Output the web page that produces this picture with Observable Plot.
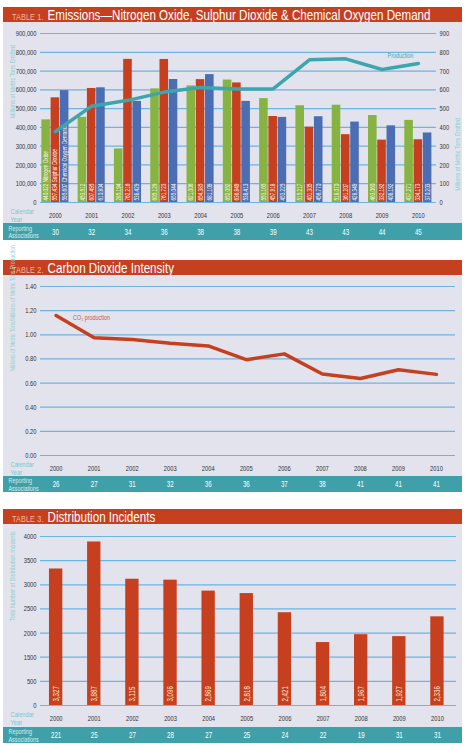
<!DOCTYPE html>
<html>
<head>
<meta charset="utf-8">
<script src="https://cdn.jsdelivr.net/npm/d3@7"></script>
<script src="https://cdn.jsdelivr.net/npm/@observablehq/plot@0.6"></script>
<style>
  body { margin: 0; background: #fff; font-family: "Liberation Sans", Arial, sans-serif; }
  #page { position: relative; width: 466px; height: 746px; overflow: hidden; }
  .panel { position: absolute; left: 3px; width: 459px; }
  .panel svg { display: block; }
  .title { height: 15px; background: #c4401f; color: #fff; line-height: 16px; padding-left: 9px; white-space: nowrap; overflow: hidden; }
  .title .inner { display: inline-block; transform: scaleX(0.8); transform-origin: left center; font-size: 14.5px; }
  .title .tag { font-size: 9px; color: #f7b9a1; margin-right: 5px; letter-spacing: 0.2px; }
</style>
</head>
<body>
<div id="page">
  <div class="panel" id="p1" style="top:7px"><div class="title"><span class="inner"><span class="tag">TABLE 1.</span>Emissions—Nitrogen Oxide, Sulphur Dioxide &amp; Chemical Oxygen Demand</span></div></div>
  <div class="panel" id="p2" style="top:260px"><div class="title"><span class="inner"><span class="tag">TABLE 2.</span>Carbon Dioxide Intensity</span></div></div>
  <div class="panel" id="p3" style="top:509px"><div class="title"><span class="inner"><span class="tag">TABLE 3.</span>Distribution Incidents</span></div></div>
</div>
<script>
// ---- data ----
const years = [2000, 2001, 2002, 2003, 2004, 2005, 2006, 2007, 2008, 2009, 2010];

// Table 1: emissions (metric tons) and production (millions of metric tons)
const seriesNames = ["Nitrogen Oxide", "Sulphur Dioxide", "Chemical Oxygen Demand"];
const nitrogenOxide = [440022, 453512, 285194, 605129, 621006, 652052, 553165, 515217, 518070, 463060, 437271];
const sulphurDioxide = [557434, 607495, 762216, 761723, 654385, 636849, 457918, 401305, 361207, 332192, 334173];
const chemicalOxygenDemand = [595607, 610804, 538429, 655044, 681109, 538413, 453225, 456770, 428349, 408192, 370203];
const production = [378, 513, 544, 588, 612, 605, 605, 760, 765, 708, 740];
const associations1 = [30, 32, 34, 36, 38, 38, 39, 43, 43, 44, 45];
const emissionTicks = [0, 100000, 200000, 300000, 400000, 500000, 600000, 700000, 800000, 900000];

// Table 2: CO2 intensity
const co2Intensity = [1.16, 0.975, 0.96, 0.93, 0.908, 0.794, 0.842, 0.675, 0.638, 0.71, 0.672];
const associations2 = [26, 27, 31, 32, 36, 36, 37, 38, 41, 41, 41];
const intensityTicks = [0, 0.2, 0.4, 0.6, 0.8, 1.0, 1.2, 1.4];

// Table 3: distribution incidents
const incidents = [3327, 3887, 3115, 3096, 2869, 2818, 2421, 1804, 1967, 1927, 2336];
const associations3 = ["221", "25", "27", "28", "27", "25", "24", "22", "19", "31", "31"];
const incidentTicks = [0, 500, 1500, 2000, 2500, 3000, 3500, 4000];

// ---- shared styling ----
const font = "'Liberation Sans', Arial, sans-serif";
const plotBg = "#e3e3ed";
const gridColor = "#6cb4e2";
const teal = "#40a0a9";
const lightTeal = "#7cc6cb";
const xDomain = [1999.59, 2010.5];
const W = 459;

const style = (background) => ({fontFamily: font, fontSize: "8px", background, color: "#333", overflow: "visible"});

function calendarLabel() {
  return Plot.text(["Calendar\nYear"], {frameAnchor: "bottom-left", dx: -30, dy: 12.5, textAnchor: "start", lineAnchor: "middle", lineHeight: 1.05, fill: lightTeal, fontSize: 8});
}
function yearAxis() {
  return Plot.axisX({ticks: years, tickFormat: d => String(d), tickSize: 0, tickPadding: 10, label: null, fontSize: 8});
}
function yTitle(text, dx, fontSize = 7.5) {
  return Plot.text([text], {frameAnchor: "left", rotate: -90, dx, fill: "#8fd0d4", fontSize});
}
function associationsBand(counts, marginRight, height) {
  return Plot.plot({
    width: W, height, marginLeft: 37, marginRight, marginTop: 0, marginBottom: 0,
    style: style(teal),
    x: {domain: xDomain, axis: null},
    marks: [
      Plot.text(years, {x: d => d, text: (d, i) => String(counts[i]), fill: "#ffffff", fontSize: 8.5}),
      Plot.text(["Reporting\nAssociations"], {frameAnchor: "left", dx: -32, textAnchor: "start", lineHeight: 1.0, fill: "#d2eff1", fontSize: 7.5})
    ]
  });
}

// narrow every label horizontally, as in a condensed typeface
function condense(svg, k) {
  svg.querySelectorAll("text").forEach(t => {
    const spans = t.querySelectorAll("tspan");
    (spans.length ? Array.from(spans) : [t]).forEach(el => {
      const len = el.getComputedTextLength();
      if (len > 0) {
        el.setAttribute("textLength", (len * k).toFixed(2));
        el.setAttribute("lengthAdjust", "spacingAndGlyphs");
      }
    });
  });
}

// ---- Table 1: grouped bars with production line on the right axis ----
const barHalf = 0.118, groupStep = 0.255;
const emissionRows = seriesNames.flatMap((name, k) => {
  const values = [nitrogenOxide, sulphurDioxide, chemicalOxygenDemand][k];
  return years.map((year, i) => ({year, series: name, value: values[i], pos: year + (k - 1) * groupStep, first: i === 0}));
});
const productionRows = years.map((year, i) => ({year, production: production[i]}));
const fmt = d3.format(",");

const chart1 = Plot.plot({
  width: W, height: 201, marginLeft: 37, marginRight: 26, marginTop: 11, marginBottom: 21,
  style: style(plotBg),
  x: {domain: xDomain},
  y: {domain: [0, 900000]},
  color: {domain: seriesNames, range: ["#86b342", "#c6401f", "#4b6db3"]},
  marks: [
    Plot.ruleY(emissionTicks, {stroke: gridColor, strokeWidth: 1.2}),
    Plot.rect(emissionRows, {x1: d => d.pos - barHalf, x2: d => d.pos + barHalf, y1: 0, y2: "value", fill: "series"}),
    Plot.text(emissionRows, {x: "pos", y: 0, text: d => d.first ? `${fmt(d.value)} ${d.series}` : fmt(d.value),
      rotate: -90, textAnchor: "start", dy: -2, fill: "#fbf6e4", fontSize: 6.5}),
    Plot.line(productionRows, {x: "year", y: d => d.production * 1000, stroke: "#3ea5ad", strokeWidth: 3.5}),
    Plot.text(productionRows.slice(-1), {x: "year", y: d => d.production * 1000, text: () => "Production", dx: -5, dy: -8, textAnchor: "end", fill: "#3ea5ad", fontSize: 7.5}),
    Plot.axisY({ticks: emissionTicks, tickFormat: d3.format(","), tickSize: 0, tickPadding: 4, label: null}),
    Plot.axisY({anchor: "right", ticks: emissionTicks, tickFormat: d => String(d / 1000), tickSize: 0, tickPadding: 3, label: null}),
    yearAxis(),
    calendarLabel(),
    yTitle("Millions of Metric Tons Emitted", -28),
    Plot.text(["Millions of Metric Tons Emitted"], {frameAnchor: "right", rotate: -90, dx: 21, fill: "#8fd0d4", fontSize: 7.5})
  ]
});

// ---- Table 2: intensity line ----
const co2Rows = years.map((year, i) => ({year, intensity: co2Intensity[i]}));
const chart2 = Plot.plot({
  width: W, height: 201, marginLeft: 37, marginRight: 7, marginTop: 11, marginBottom: 21,
  style: style(plotBg),
  x: {domain: xDomain},
  y: {domain: [0, 1.4]},
  marks: [
    Plot.ruleY(intensityTicks, {stroke: gridColor, strokeWidth: 1.2}),
    Plot.line(co2Rows, {x: "year", y: "intensity", stroke: "#c6401f", strokeWidth: 3.5}),
    Plot.text(co2Rows.slice(0, 1), {x: "year", y: "intensity", text: () => "CO₂ production", dx: 17, dy: 2, textAnchor: "start", fill: "#d0553a", fontSize: 7.5}),
    Plot.axisY({ticks: intensityTicks, tickFormat: d3.format(".2f"), tickSize: 0, tickPadding: 4, label: null}),
    yearAxis(),
    calendarLabel(),
    yTitle("Millions of Metric Tons/Millions of Metric Tons Production", -28, 7)
  ]
});

// ---- Table 3: incident bars (axis stops follow the printed tick labels) ----
const incidentRows = years.map((year, i) => ({year, count: incidents[i]}));
const incidentHalf = 0.175;
const chart3 = Plot.plot({
  width: W, height: 203, marginLeft: 37, marginRight: 6, marginTop: 12, marginBottom: 22,
  style: style(plotBg),
  x: {domain: xDomain},
  y: {type: "linear", domain: incidentTicks},
  marks: [
    Plot.ruleY(incidentTicks, {stroke: gridColor, strokeWidth: 1.2}),
    Plot.rect(incidentRows, {x1: d => d.year - incidentHalf, x2: d => d.year + incidentHalf, y1: 0, y2: "count", fill: "#c6401f"}),
    Plot.text(incidentRows, {x: "year", y: 0, text: d => fmt(d.count), rotate: -90, textAnchor: "start", dy: -4, fill: "#f7e4c9", fontSize: 8.5}),
    Plot.axisY({ticks: incidentTicks, tickFormat: d => String(d), tickSize: 0, tickPadding: 4, label: null}),
    yearAxis(),
    calendarLabel(),
    yTitle("Total Number of Distribution Incidents", -28)
  ]
});

const bands = [associationsBand(associations1, 26, 17), associationsBand(associations2, 7, 16), associationsBand(associations3, 6, 16)];
document.getElementById("p1").append(chart1, bands[0]);
document.getElementById("p2").append(chart2, bands[1]);
document.getElementById("p3").append(chart3, bands[2]);
[chart1, chart2, chart3, ...bands].forEach(svg => condense(svg, 0.72));
</script>
</body>
</html>
